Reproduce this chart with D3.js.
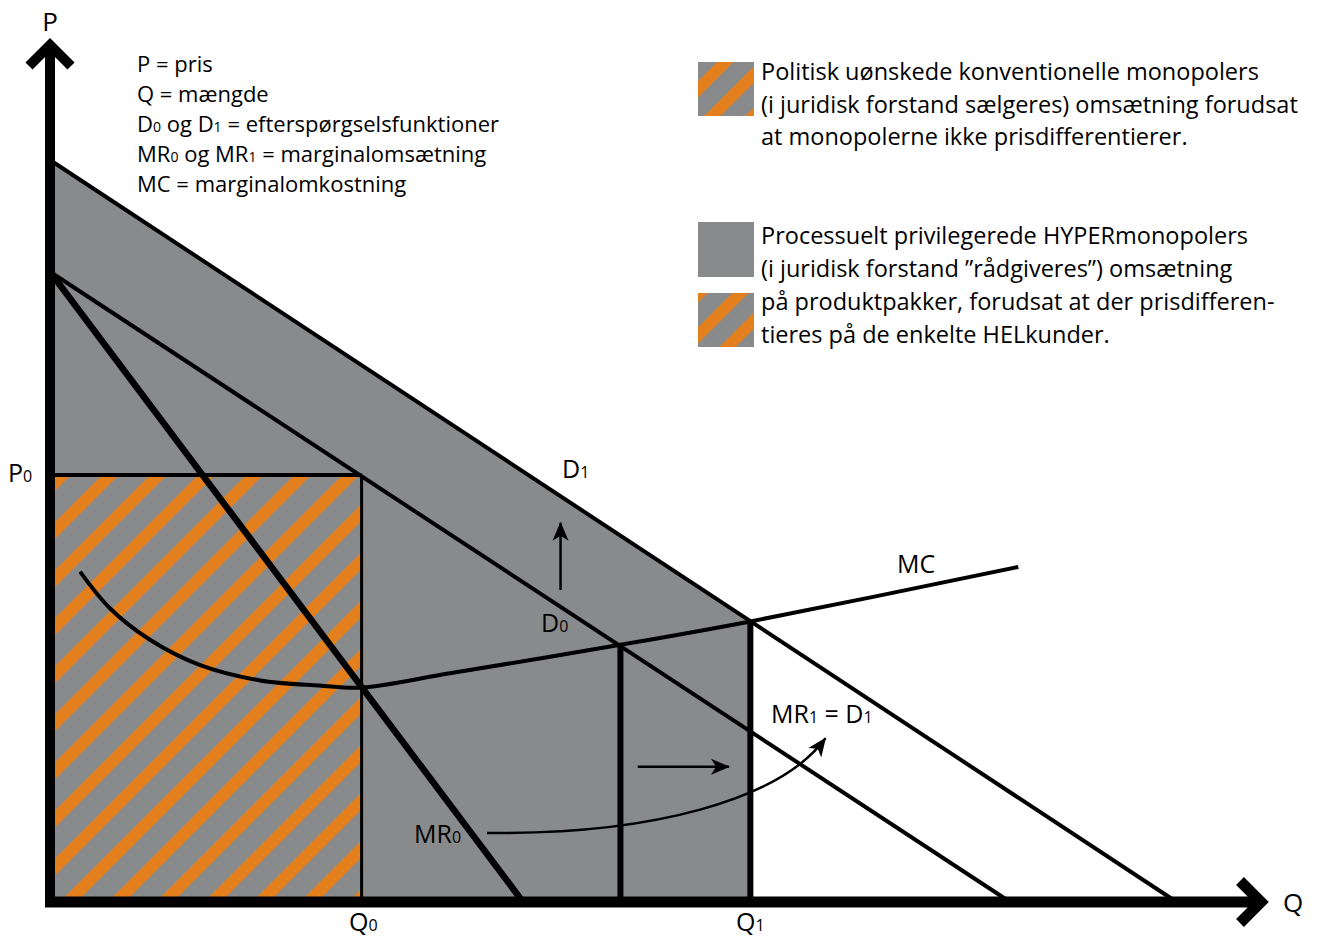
<!DOCTYPE html>
<html>
<head>
<meta charset="utf-8">
<script src="https://cdn.jsdelivr.net/npm/d3@7"></script>
<style>
  html, body { margin: 0; padding: 0; background: #fff; }
  svg { display: block; font-family: "Open Sans", "Noto Sans", sans-serif; }
</style>
</head>
<body>
<svg id="chart" width="1339" height="939"></svg>
<script>
// ---- data (abstract units: Q = quantity, P = price) ----
const qDomain = [0, 120];
const pDomain = [0, 85];
const demandD1 = [{q: 0, p: 73}, {q: 111, p: 0}];
const demandD0 = [{q: 0, p: 62}, {q: 94.6, p: 0}];
const marginalRevenue0 = [{q: 0, p: 62}, {q: 46.6, p: 0}];
const marginalCost = [
  {q: 2.96, p: 32.5}, {q: 5.9, p: 28.9}, {q: 9.85, p: 25.8}, {q: 14.8, p: 23.3},
  {q: 20.7, p: 21.8}, {q: 26.5, p: 21.3}, {q: 30.7, p: 21.1}, {q: 39.4, p: 22.5}, {q: 56.2, p: 25.3},
  {q: 69, p: 27.6}, {q: 95.4, p: 32.96}
];
const Q0 = 30.7, Qmid = 56.2, Q1 = 69, P0 = 42;
const midTop = 25.3, q1Top = 27.6;
const greyArea = [{q: 0, p: 0}, {q: 0, p: 73}, {q: Q1, p: q1Top}, {q: Q1, p: 0}];
const upArrow = [{q: 50.3, p: 30.7}, {q: 50.3, p: 37.3}];
const rightArrow = [{q: 57.9, p: 13.3}, {q: 66.9, p: 13.3}];
const curvedArrow = [{q: 43.05, p: 6.8}, {q: 59.1, p: 6.6}, {q: 71.9, p: 10}, {q: 76.4, p: 16.1}];

const glossary = [
  [["P = pris"]],
  [["Q = mængde"]],
  [["D"], ["0", true], [" og D"], ["1", true], [" = efterspørgselsfunktioner"]],
  [["MR"], ["0", true], [" og MR"], ["1", true], [" = marginalomsætning"]],
  [["MC = marginalomkostning"]]
];
const legend1 = [
  "Politisk uønskede konventionelle monopolers",
  "(i juridisk forstand sælgeres) omsætning forudsat",
  "at monopolerne ikke prisdifferentierer."
];
const legend2 = [
  "Processuelt privilegerede HYPERmonopolers",
  "(i juridisk forstand ”rådgiveres”) omsætning",
  "på produktpakker, forudsat at der prisdifferen-",
  "tieres på de enkelte HELkunder."
];

// ---- styles ----
const GREY = "#898a8c", ORANGE = "#e3801d";

const svg = d3.select("#chart");
const x = d3.scaleLinear().domain(qDomain).range([50, 1268]);
const y = d3.scaleLinear().domain(pDomain).range([902, 38]);
const line = d3.line().x(d => x(d.q)).y(d => y(d.p));

const defs = svg.append("defs");
function stripePattern(id, period, band, ox, oy) {
  const pat = defs.append("pattern").attr("id", id)
    .attr("patternUnits", "userSpaceOnUse")
    .attr("width", period).attr("height", period)
    .attr("x", ox).attr("y", oy)
    .attr("patternTransform", "rotate(45)");
  pat.append("rect").attr("width", period).attr("height", period).attr("fill", GREY);
  pat.append("rect").attr("width", band).attr("height", period).attr("fill", ORANGE);
}
stripePattern("hatch", 34, 12, 0, 0);
stripePattern("hatchLegend", 29, 11.5, 0, 0);

defs.append("marker").attr("id", "arrowHead")
  .attr("viewBox", "-20 -10 22 20").attr("refX", 0).attr("refY", 0)
  .attr("markerWidth", 22).attr("markerHeight", 20)
  .attr("markerUnits", "userSpaceOnUse").attr("orient", "auto")
  .append("path").attr("d", "M1,0 L-18,-8 L-13,0 L-18,8 Z").attr("fill", "#000");

// grey area under D1 up to Q1
svg.append("path").datum(greyArea)
  .attr("d", d => line(d) + "Z").attr("fill", GREY);

// hatched rectangle 0..Q0 x 0..P0
svg.append("rect")
  .attr("x", x(0)).attr("y", y(P0))
  .attr("width", x(Q0) - x(0)).attr("height", y(0) - y(P0))
  .attr("fill", "url(#hatch)");

// curves
svg.append("path").datum(demandD1).attr("d", line)
  .attr("fill", "none").attr("stroke", "#000").attr("stroke-width", 4);
svg.append("path").datum(demandD0).attr("d", line)
  .attr("fill", "none").attr("stroke", "#000").attr("stroke-width", 4);
svg.append("path").datum(marginalRevenue0).attr("d", line)
  .attr("fill", "none").attr("stroke", "#000").attr("stroke-width", 6.5);
svg.append("path").datum(marginalCost)
  .attr("d", d3.line().x(d => x(d.q)).y(d => y(d.p)).curve(d3.curveCatmullRom.alpha(0.5)))
  .attr("fill", "none").attr("stroke", "#000").attr("stroke-width", 4);

// P0 horizontal and verticals
svg.append("path").datum([{q: 0, p: P0}, {q: Q0, p: P0}]).attr("d", line)
  .attr("stroke", "#000").attr("stroke-width", 4);
svg.append("path").datum([{q: Q0, p: P0}, {q: Q0, p: 0}]).attr("d", line)
  .attr("stroke", "#000").attr("stroke-width", 3);
svg.append("path").datum([{q: Qmid, p: midTop}, {q: Qmid, p: 0}]).attr("d", line)
  .attr("stroke", "#000").attr("stroke-width", 6);
svg.append("path").datum([{q: Q1, p: q1Top}, {q: Q1, p: 0}]).attr("d", line)
  .attr("stroke", "#000").attr("stroke-width", 6);

// arrows
[upArrow, rightArrow].forEach(a => {
  svg.append("path").datum(a).attr("d", line)
    .attr("fill", "none").attr("stroke", "#000").attr("stroke-width", 2.5)
    .attr("marker-end", "url(#arrowHead)");
});
{
  const c = curvedArrow, p = d3.path();
  p.moveTo(x(c[0].q), y(c[0].p));
  p.bezierCurveTo(x(c[1].q), y(c[1].p), x(c[2].q), y(c[2].p), x(c[3].q), y(c[3].p));
  svg.append("path").attr("d", p.toString())
    .attr("fill", "none").attr("stroke", "#000").attr("stroke-width", 2.5)
    .attr("marker-end", "url(#arrowHead)");
}

// axes with chevron arrowheads
const ox = x(0), oy = y(0), yTip = y(pDomain[1]) + 7, xTip = x(qDomain[1]) - 7;
svg.append("path")
  .attr("d", `M${ox},${oy + 5} L${ox},${yTip} M${ox - 21},${yTip + 21} L${ox},${yTip} L${ox + 21},${yTip + 21}`)
  .attr("fill", "none").attr("stroke", "#000").attr("stroke-width", 10)
  .attr("stroke-linejoin", "miter").attr("stroke-miterlimit", 10);
svg.append("path")
  .attr("d", `M${ox - 5},${oy} L${xTip},${oy} M${xTip - 21},${oy - 21} L${xTip},${oy} L${xTip - 21},${oy + 21}`)
  .attr("fill", "none").attr("stroke", "#000").attr("stroke-width", 11)
  .attr("stroke-linejoin", "miter").attr("stroke-miterlimit", 10);

// labels
function label(parts, px, py, size, anchor) {
  const t = svg.append("text").attr("x", px).attr("y", py)
    .attr("font-size", size).attr("fill", "#000").attr("text-anchor", anchor || "start");
  parts.forEach(([s, sub]) => {
    const ts = t.append("tspan").text(s);
    if (sub) ts.attr("font-size", size * 0.64);
  });
  return t;
}
label([["P"]], 50, 31, 26, "middle");
label([["Q"]], 1283, 912, 26);
label([["P"], ["0", true]], 8, 482, 25);
label([["Q"], ["0", true]], 349, 931, 25);
label([["Q"], ["1", true]], 736, 931, 25);
label([["D"], ["1", true]], 562, 478, 25);
label([["D"], ["0", true]], 541, 632, 25);
label([["MC"]], 897, 573, 25);
label([["MR"], ["1", true], [" = D"], ["1", true]], 771, 723, 25);
label([["MR"], ["0", true]], 414, 843, 25);

// glossary
glossary.forEach((parts, i) => label(parts, 137, 72 + i * 30, 22));

// legend
svg.append("rect").attr("x", 698).attr("y", 62).attr("width", 56).attr("height", 54)
  .attr("fill", "url(#hatchLegend)");
svg.append("rect").attr("x", 698).attr("y", 222).attr("width", 56).attr("height", 55)
  .attr("fill", GREY);
svg.append("rect").attr("x", 698).attr("y", 293).attr("width", 56).attr("height", 54)
  .attr("fill", "url(#hatchLegend)");
legend1.forEach((s, i) => label([[s]], 761, 80 + i * 32.5, 23.5));
legend2.forEach((s, i) => label([[s]], 761, 244 + i * 33, 23.5));
</script>
</body>
</html>
